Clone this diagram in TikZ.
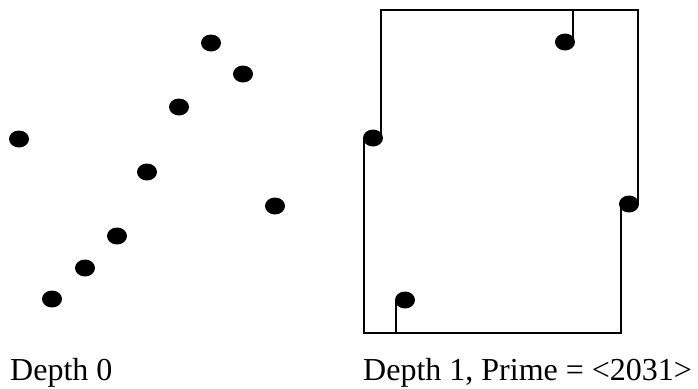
\documentclass[tikz,border=0pt]{standalone}
\usepackage{fontspec}
\setmainfont{Liberation Serif}
\usetikzlibrary{positioning,shapes.geometric}
\tikzset{
  % solid black sample points
  blob/.style={ellipse, fill=black, draw=none, inner sep=0pt,
    minimum width=20pt, minimum height=17pt},
  % outline of the split region and the stems
  regionln/.style={line width=2.3pt, line join=miter, line cap=butt},
  % captions under each panel
  caption/.style={anchor=base west, inner sep=0pt,
    font=\fontsize{32}{38}\selectfont},
}
\begin{document}
\begin{tikzpicture}[x=1pt, y=-1pt]
    \useasboundingbox (0,0) rectangle (698,388);
    % depth 0: the raw points
    \foreach \px/\py [count=\i] in {211/43, 243/74, 179/107, 19/139, 147/172,
        275/206, 117/236, 85/268, 52/299}
      \node[blob] (p\i) at (\px,\py) {};
    \node[caption] (capa) at (10,380) {Depth 0};
    % depth 1: points on the region border
    \node[blob] (qtop) at (565,42) {};
    \node[blob] (qleft) at (373,138) {};
    \node[blob] (qright) at (629,204) {};
    \node[blob] (qbot) at (405,300) {};
    % corners of the region
    \coordinate (tl) at (381,10);
    \coordinate (tr) at (638,10);
    \coordinate (bl) at (364,333);
    \coordinate (br) at (621,333);
    \draw[regionln] (tl |- qleft) -- (tl) -- (tr) -- (tr |- qright);
    \draw[regionln] (br |- qright) -- (br) -- (bl) -- (bl |- qleft);
    % stems
    \coordinate (stop) at (573,10);
    \coordinate (sbot) at (396,333);
    \draw[regionln] (stop) -- (stop |- qtop);
    \draw[regionln] (sbot) -- (sbot |- qbot);
    \node[caption] (capb) at (363,380) {Depth 1, Prime = <2031>};
\end{tikzpicture}
\end{document}
